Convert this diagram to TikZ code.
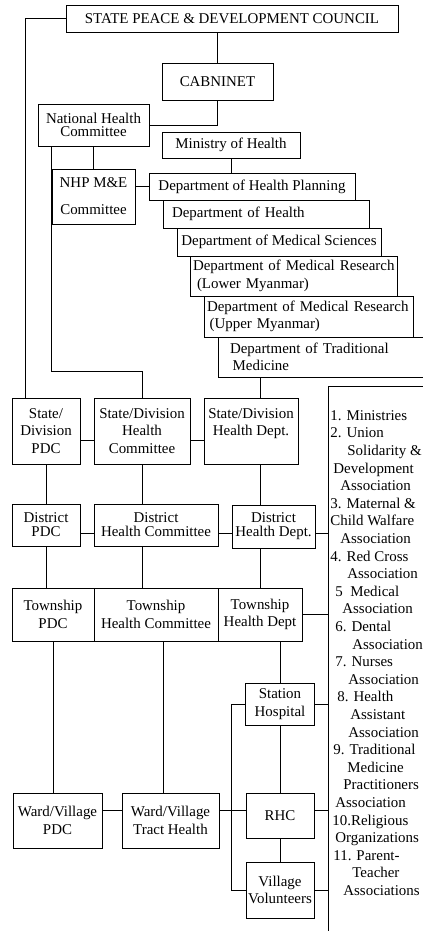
\documentclass[tikz,border=0pt]{standalone}
\usepackage{fontspec}
\setmainfont{Liberation Serif}
\usetikzlibrary{positioning}

\begin{document}
\begin{tikzpicture}[x=0.75pt, y=-0.75pt, line width=0.6pt,
    every node/.style={font=\fontsize{11.2}{13.2}\selectfont},
    box/.style 2 args={rectangle, draw, align=center, inner sep=1pt,
      minimum width=#1*0.75pt, minimum height=#2*0.75pt},
    ltext/.style 2 args={align=left, inner xsep=#1*0.75pt, text width=#2*0.75pt}]
        \tikzstyle{tight} = [font=\fontsize{11.2}{10.5}\selectfont]

        \useasboundingbox (0,0) rectangle (423,931);
        \clip (0,0) rectangle (423,931);

        % central level
        \node[box={332}{27}] (spdc) at (232,18.5) {STATE PEACE \& DEVELOPMENT COUNCIL};
        \node[box={111}{37}] (cab) at (217.5,81.5) {CABNINET};
        \node[box={111}{42}, font=\fontsize{11.2}{10}\selectfont] (nhc) at (93.5,125) {National Health\\Committee};
        \node[box={138}{26}] (moh) at (231,145) {Ministry of Health};
        \node[box={83}{55}] (nhp) at (93.5,196.5) {NHP M\&E\\[7pt]Committee};

        % departments, stepped
        \node[box={206}{27}] (dhp) at (252,186.5) {Department of Health Planning};
        \node[box={206}{28}, ltext={9}{188}] (dh) at (266,214) {Department of Health};
        \node[box={204}{28}] (dms) at (279,242) {Department of Medical Sciences};
        \node[box={207}{40}, ltext={3}{201}] (dmrl) at (293.5,276) {\mbox{Department of Medical Research}\\\hspace*{3pt}(Lower Myanmar)};
        \node[box={209}{41}, ltext={3}{203}] (dmru) at (308.5,316.5) {\mbox{Department of Medical Research}\\\hspace*{2pt}(Upper Myanmar)};
        \node[box={212}{40}, ltext={12}{188}] (dtm) at (324,357) {\mbox{Department of Traditional}\\\hspace*{2pt}Medicine};

        % state/division level
        \node[box={68}{66}] (sdpdc) at (46,431) {State/\\Division\\PDC};
        \node[box={96}{66}] (sdhc) at (142,431) {State/Division\\Health\\Committee};
        \node[box={94}{66}] (sdhd) at (251,431) {State/Division\\Health Dept.\\\phantom{H}};

        % district level
        \node[box={68}{42}, tight] (dpdc) at (46,525) {District\\PDC};
        \node[box={124}{42}, tight] (dhc) at (156,525) {District\\Health Committee};
        \node[box={83}{43}, tight] (dhd) at (273.5,526.5) {District\\Health Dept.};

        % township level
        \node[box={82}{53}] (tpdc) at (53,614.5) {Township\\PDC};
        \node[box={124}{53}] (thc) at (156,614.5) {Township\\Health Committee};
        \node[box={84}{53}] (thd) at (260,614.5) {Township\\Health Dept};

        % rural level
        \node[box={69}{42}] (sh) at (280,704) {Station\\Hospital};
        \node[box={68}{45}] (rhc) at (280,815.5) {RHC};
        \node[box={68}{56}] (vv) at (280,890) {Village\\Volunteers};
        \node[box={89}{55}] (wvpdc) at (57.5,820.5) {Ward/Village\\PDC};
        \node[box={97}{55}] (wvth) at (170.5,820.5) {Ward/Village\\Tract Health};

        % partners
        \node[box={112}{559}] (assoc) at (384,665.5) {};
        \node[anchor=north west, inner sep=0pt, align=left] (assoclist) at (330,410) {%
          1. Ministries\\
          2. Union\\
          \hspace*{12.75pt}Solidarity \&\\
          \hspace*{2.25pt}Development\\
          \hspace*{7.5pt}Association\\
          3. Maternal \&\\
          Child Walfare\\
          \hspace*{7.5pt}Association\\
          4. Red Cross\\
          \hspace*{12.75pt}Association\\
          \hspace*{3.75pt}5~ Medical\\
          \hspace*{9pt}Association\\
          \hspace*{3.75pt}6. Dental\\
          \hspace*{16.5pt}Association\\
          \hspace*{3.75pt}7. Nurses\\
          \hspace*{13.5pt}Association\\
          \hspace*{5.25pt}8. Health\\
          \hspace*{15pt}Assistant\\
          \hspace*{13.5pt}Association\\
          \hspace*{2.25pt}9. Traditional\\
          \hspace*{12.75pt}Medicine\\
          \hspace*{9.75pt}Practitioners\\
          \hspace*{3.75pt}Association\\
          \hspace*{1.5pt}10.Religious\\
          \hspace*{3.75pt}Organizations\\
          \hspace*{2.25pt}11. Parent-\\
          \hspace*{16.5pt}Teacher\\
          \hspace*{9.75pt}Associations};

        % links, top part
        \draw (spdc.west) -| ([xshift=-15.75pt]sdpdc.north);
        \draw (spdc.south -| cab.north) -- (cab.north);
        \draw (cab.south) |- (nhc.east);
        \draw (nhc.south -| nhp.north) -- (nhp.north);
        \draw (nhc.south -| nhp.west) |- ([yshift=19.5pt]sdhc.north) -- (sdhc.north);
        \draw (dhp.west -| nhp.east) -- (dhp.west);
        \draw (moh.south) -- (moh.south |- dhp.north);
        \draw (dtm.south -| thd.north) -- (sdhd.north -| thd.north);

        % links, state/division and district
        \draw ([yshift=-6.75pt]sdpdc.east) -- ([yshift=-6.75pt]sdhc.west);
        \draw ([yshift=-6.75pt]sdhc.east) -- ([yshift=-6.75pt]sdhd.west);
        \draw (sdpdc.south) -- (sdpdc.south |- dpdc.north);
        \draw (sdhc.south) -- (sdhc.south |- dhc.north);
        \draw (sdhd.south -| thd.north) -- (dhd.north -| thd.north);
        \draw ([yshift=-6pt]dpdc.east) -- ([yshift=-6pt]dpdc.east -| dhc.west);
        \draw ([yshift=-6pt]dhc.east) -- ([yshift=-6pt]dhc.east -| dhd.west);
        \draw ([yshift=-5pt]dhd.east) -- ([yshift=-5pt]dhd.east -| assoc.west);

        % links, township and below
        \draw (dpdc.south) -- (dpdc.south |- tpdc.north);
        \draw (dhc.south -| sdhc.south) -- (thc.north -| sdhc.south);
        \draw (dhd.south -| thd.north) -- (thd.north);
        \draw (thd.east) -- (thd.east -| assoc.west);
        \draw (tpdc.south) -- (tpdc.south |- wvpdc.north);
        \draw ([xshift=-5.6pt]wvth.north) -- ([xshift=-5.6pt]wvth.north |- thc.south);
        \draw (thd.south -| sh.north) -- (sh.north);
        \draw (sh.east) -- (sh.east -| assoc.west);
        \draw (sh.west) -- ++(-14,0) |- (vv.west);
        \draw (sh.south) -- (rhc.north);
        \draw (rhc.south) -- (vv.north);
        \draw ([yshift=7.5pt]wvpdc.east) -- ([yshift=7.5pt]wvth.west);
        \draw ([yshift=7.5pt]wvth.east) -- ([yshift=7.5pt]wvth.east -| rhc.west);
        \draw ([yshift=4pt]rhc.east) -- ([yshift=4pt]rhc.east -| assoc.west);
        \draw (vv.east) -- (vv.east -| assoc.west);
      \end{tikzpicture}
\end{document}
